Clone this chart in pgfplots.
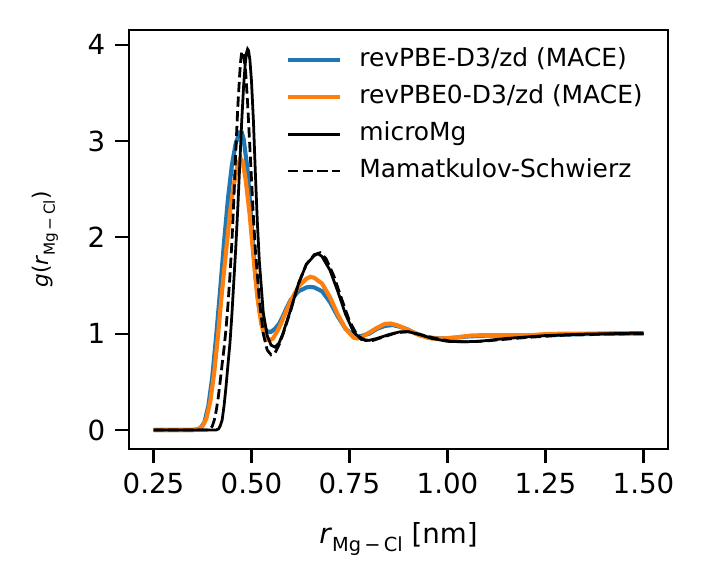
\documentclass[border=0pt]{standalone}
\usepackage{fontspec}
\setmainfont{DejaVu Sans}
\usepackage{pgfplots}
\pgfplotsset{compat=1.18}
\definecolor{mblue}{HTML}{1F77B4}
\definecolor{morange}{HTML}{FF7F0E}
\begin{document}
\begin{tikzpicture}
\begin{axis}[
  at={(0,0)}, anchor=south west,
  scale only axis,
  width=194.04bp, height=150.84bp,
  xmin=0.1875, xmax=1.5625,
  ymin=-0.198, ymax=4.153,
  axis line style={line width=0.8pt},
  every tick/.style={line width=0.8pt, black},
  tick align=outside,
  major tick length=5bp,
  xtick={0.25,0.5,0.75,1.0,1.25,1.5},
  ytick={0,1,2,3,4},
  xtick pos=bottom, ytick pos=left,
  /pgf/number format/assume math mode=true,
  xticklabel style={/pgf/number format/.cd, fixed, fixed zerofill, precision=2},
  ticklabel style={font=\fontsize{10}{12}\selectfont},
  xlabel={\textit{r}\raisebox{-0.3em}{\fontsize{7}{8}\selectfont Mg\,−\,Cl} [nm]},
  xlabel style={font=\fontsize{10}{12}\selectfont, at={(axis description cs:0.5,-0.214)}, anchor=center},
  ylabel={\textit{g}(\textit{r}\raisebox{-0.3em}{\fontsize{5.5}{6.5}\selectfont Mg\,−\,Cl})},
  ylabel style={font=\fontsize{7.8}{9}\selectfont, at={(axis description cs:-0.156,0.5)}, anchor=center},
  legend image code/.code={\draw[#1] (0bp,0bp) -- (18.7bp,0bp);},
  legend style={draw=none, fill=none, at={(axis description cs:0.275,0.97)}, anchor=north west,
    font=\fontsize{9}{11}\selectfont,
    nodes={inner sep=0pt, text height=6.6pt, text depth=1.9pt},
    column sep=6.2bp, row sep=4.8bp},
  legend cell align=left,
]
\addplot[mblue, line width=1.5pt] coordinates {
(0.25,0) (0.35,0) (0.36,0.005) (0.37,0.02) (0.38,0.08) (0.39,0.25) (0.40,0.55)
(0.41,0.98) (0.42,1.45) (0.43,1.95) (0.44,2.4) (0.45,2.75) (0.46,2.98) (0.47,3.09)
(0.475,3.09) (0.48,3.02) (0.49,2.7) (0.50,2.15) (0.51,1.6) (0.52,1.25) (0.53,1.08)
(0.54,1.02) (0.55,1.02) (0.56,1.05) (0.57,1.1) (0.58,1.18) (0.59,1.27) (0.60,1.35)
(0.62,1.44) (0.64,1.48) (0.65,1.485) (0.66,1.48) (0.68,1.44) (0.70,1.33) (0.72,1.18)
(0.74,1.05) (0.76,0.98) (0.77,0.97) (0.78,0.975) (0.80,1.0) (0.82,1.05) (0.84,1.08)
(0.86,1.09) (0.88,1.07) (0.90,1.04) (0.92,1.0) (0.95,0.96) (0.98,0.95) (1.00,0.95)
(1.05,0.97) (1.10,0.98) (1.20,0.98) (1.30,0.99) (1.40,1.0) (1.50,1.005)
};
\addlegendentry{revPBE-D3/zd (MACE)}
\addplot[morange, line width=1.5pt] coordinates {
(0.25,0) (0.355,0) (0.365,0.01) (0.375,0.04) (0.385,0.12) (0.395,0.3) (0.405,0.6)
(0.415,1.0) (0.425,1.45) (0.435,1.85) (0.445,2.25) (0.455,2.55) (0.465,2.76) (0.472,2.82)
(0.478,2.78) (0.485,2.6) (0.495,2.25) (0.505,1.8) (0.515,1.38) (0.525,1.1) (0.535,0.96)
(0.545,0.93) (0.555,0.95) (0.565,1.02) (0.575,1.1) (0.585,1.2) (0.60,1.34) (0.62,1.49)
(0.64,1.57) (0.65,1.59) (0.66,1.58) (0.68,1.52) (0.70,1.38) (0.72,1.2) (0.74,1.05)
(0.76,0.96) (0.77,0.95) (0.78,0.96) (0.80,1.01) (0.82,1.06) (0.84,1.1) (0.855,1.105)
(0.87,1.09) (0.90,1.04) (0.93,0.98) (0.96,0.95) (0.99,0.95) (1.02,0.96) (1.06,0.98)
(1.10,0.985) (1.20,0.98) (1.25,0.995) (1.30,1.0) (1.50,1.0)
};
\addlegendentry{revPBE0-D3/zd (MACE)}
\addplot[black, line width=1pt] coordinates {
(0.25,0) (0.41,0) (0.416,0.01) (0.42,0.04) (0.425,0.1) (0.43,0.25) (0.435,0.45)
(0.44,0.68) (0.445,0.9) (0.45,1.2) (0.455,1.55) (0.46,1.9) (0.465,2.3) (0.47,2.75)
(0.475,3.2) (0.48,3.58) (0.484,3.8) (0.4875,3.92) (0.49,3.955) (0.4925,3.94) (0.496,3.84)
(0.50,3.62) (0.505,3.2) (0.51,2.65) (0.515,2.15) (0.52,1.75) (0.53,1.22) (0.54,0.98)
(0.55,0.88) (0.56,0.86) (0.57,0.9) (0.58,1.0) (0.60,1.25) (0.62,1.52) (0.64,1.72)
(0.66,1.81) (0.67,1.83) (0.68,1.8) (0.70,1.66) (0.72,1.44) (0.74,1.2) (0.76,1.02)
(0.78,0.94) (0.80,0.93) (0.82,0.95) (0.85,0.99) (0.88,1.02) (0.90,1.02) (0.93,0.99)
(0.96,0.95) (1.00,0.92) (1.04,0.915) (1.08,0.92) (1.15,0.95) (1.25,0.98) (1.35,0.995)
(1.50,1.005)
};
\addlegendentry{microMg}
\addplot[black, line width=1pt, dash pattern=on 3.7pt off 1.6pt] coordinates {
(0.25,0) (0.39,0) (0.395,0.01) (0.40,0.04) (0.405,0.1) (0.41,0.2) (0.415,0.33)
(0.42,0.5) (0.425,0.68) (0.43,0.85) (0.435,1.05) (0.44,1.3) (0.445,1.6) (0.45,1.95)
(0.455,2.4) (0.46,2.9) (0.465,3.35) (0.47,3.7) (0.4725,3.84) (0.475,3.92) (0.4775,3.93)
(0.48,3.9) (0.485,3.72) (0.49,3.4) (0.495,3.0) (0.50,2.6) (0.505,2.2) (0.51,1.86)
(0.52,1.35) (0.53,1.0) (0.54,0.83) (0.55,0.78) (0.56,0.8) (0.57,0.88) (0.58,0.99)
(0.60,1.24) (0.62,1.52) (0.64,1.72) (0.66,1.82) (0.675,1.84) (0.69,1.78) (0.71,1.6)
(0.73,1.36) (0.75,1.13) (0.77,0.98) (0.79,0.93) (0.81,0.93) (0.84,0.97) (0.87,1.01)
(0.90,1.02) (0.93,0.99) (0.97,0.95) (1.01,0.92) (1.05,0.915) (1.10,0.925) (1.20,0.96)
(1.30,0.985) (1.40,0.995) (1.50,1.0)
};
\addlegendentry{Mamatkulov-Schwierz}
\end{axis}
\pgfresetboundingbox
\useasboundingbox (-46.44bp,-49.68bp) rectangle (207.72bp,161.64bp);
\end{tikzpicture}
\end{document}
